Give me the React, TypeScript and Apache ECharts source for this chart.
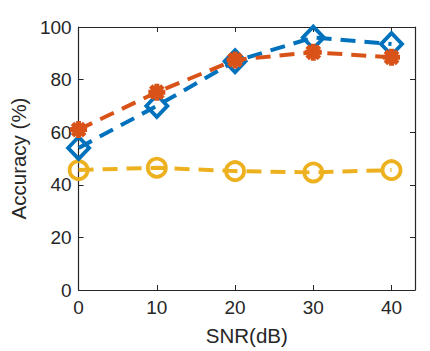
import React, { useEffect, useRef } from "react";
import * as echarts from "echarts";

const snr = [0, 10, 20, 30, 40];
const seriesA = [54, 70, 87, 96, 93.5];
const seriesB = [61, 75.2, 87.5, 90.4, 88.5];
const seriesC = [45.6, 46.5, 45.2, 44.7, 45.6];
const yTicks = [0, 20, 40, 60, 80, 100];

const asterisk =
  "path://M0,-1L0,1M-1,0L1,0M-0.72,-0.72L0.72,0.72M-0.72,0.72L0.72,-0.72";

export default function App() {
  const ref = useRef<HTMLDivElement>(null);
  useEffect(() => {
    if (!ref.current) return;
    const chart = echarts.init(ref.current, undefined, { renderer: "svg" });
    const font = "Liberation Sans, Arial, sans-serif";
    const txt = "#262626";
    const mk = (vals: number[]) => snr.map((x, i) => [x, vals[i]]);
    const dash = [15, 9];
    const frame = {
      axisLine: { show: true, onZero: false, lineStyle: { color: txt, width: 1.2 } },
      axisTick: { show: true, inside: true, length: 5, lineStyle: { color: txt, width: 1 } },
      splitLine: { show: false },
    };
    chart.setOption({
      animation: false,
      grid: { left: 64, top: 27, right: 15, bottom: 61 },
      xAxis: [
        {
          type: "value",
          min: 0,
          max: 43,
          interval: 10,
          name: "SNR(dB)",
          nameLocation: "middle",
          nameGap: 35,
          nameTextStyle: { fontSize: 20.5, color: txt, fontFamily: font },
          ...frame,
          axisLabel: {
            fontSize: 19,
            color: txt,
            fontFamily: font,
            margin: 8,
            formatter: (v: number) => (v % 10 === 0 ? String(v) : ""),
          },
        },
        {
          type: "value",
          position: "top",
          min: 0,
          max: 43,
          interval: 10,
          ...frame,
          axisLabel: { show: false },
        },
      ],
      yAxis: [
        {
          type: "value",
          min: yTicks[0],
          max: yTicks[yTicks.length - 1],
          interval: 20,
          name: "Accuracy (%)",
          nameLocation: "middle",
          nameGap: 43,
          nameTextStyle: { fontSize: 20.5, color: txt, fontFamily: font },
          ...frame,
          axisLabel: { fontSize: 19, color: txt, fontFamily: font, margin: 7 },
        },
        {
          type: "value",
          position: "right",
          min: 0,
          max: 100,
          interval: 20,
          ...frame,
          axisLabel: { show: false },
        },
      ],
      series: [
        {
          type: "line",
          data: mk(seriesC),
          symbol: "circle",
          symbolSize: 18,
          lineStyle: { color: "#EDB120", width: 4, type: dash },
          itemStyle: { color: "transparent", borderColor: "#EDB120", borderWidth: 3.8 },
          z: 2,
        },
        {
          type: "line",
          data: mk(seriesA),
          symbol: "diamond",
          symbolSize: [21, 22],
          lineStyle: { color: "#0072BD", width: 4, type: dash },
          itemStyle: { color: "transparent", borderColor: "#0072BD", borderWidth: 3.8 },
          z: 3,
        },
        {
          type: "line",
          data: mk(seriesB),
          symbol: asterisk,
          symbolSize: 17,
          lineStyle: { color: "#D95319", width: 4, type: dash },
          itemStyle: { color: "transparent", borderColor: "#D95319", borderWidth: 5 },
          z: 4,
        },
      ],
    });
    return () => chart.dispose();
  }, []);
  return (
    <div
      ref={ref}
      style={{ position: "absolute", left: 0, top: 0, width: 430, height: 351 }}
    />
  );
}
